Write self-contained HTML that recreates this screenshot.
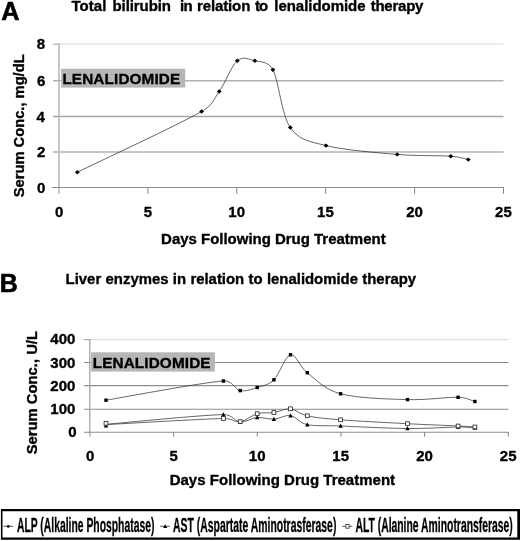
<!DOCTYPE html><html><head><meta charset="utf-8"><title>Figure</title><style>html,body{margin:0;padding:0;background:#fff}svg{display:block}text{stroke:#000;stroke-width:.35px;stroke-linejoin:round}</style></head><body><svg width="520" height="541" viewBox="0 0 520 541">
<rect width="520" height="541" fill="#fff"/>
<g font-family="Liberation Sans, Arial, sans-serif" font-weight="bold" fill="#000">
<text x="1.27" y="19.50" font-size="25.3" style="stroke-width:.6px">A</text>
<text x="-0.23" y="292.00" font-size="25.0" style="stroke-width:.6px">B</text>
<text y="10.5" font-size="15"><tspan x="71.38" style="letter-spacing:0.075px">Total </tspan><tspan x="112.53" style="letter-spacing:-0.084px">bilirubin </tspan><tspan x="180.00" style="letter-spacing:-0.775px">in </tspan><tspan x="197.02" style="letter-spacing:-0.125px">relation </tspan><tspan x="254.97" style="letter-spacing:-0.900px">to </tspan><tspan x="274.30" style="letter-spacing:-0.041px">lenalidomide </tspan><tspan x="370.68" style="letter-spacing:-0.238px">therapy</tspan></text>
<text x="65.62" y="283.90" font-size="14.9" style="word-spacing:0.217px" >Liver enzymes in relation to lenalidomide therapy</text>
<line x1="53.00" y1="152.00" x2="503.50" y2="152.00" stroke="#b2b2b2" stroke-width="1.5"/>
<line x1="53.00" y1="116.50" x2="503.50" y2="116.50" stroke="#a4a4a4" stroke-width="1.3"/>
<line x1="53.00" y1="80.70" x2="503.50" y2="80.70" stroke="#b2b2b2" stroke-width="1.5"/>
<line x1="59.00" y1="44.00" x2="503.50" y2="44.00" stroke="#ececec" stroke-width="2"/>
<line x1="53.00" y1="44.20" x2="59.00" y2="44.20" stroke="#b0b0b0" stroke-width="1.2"/>
<rect x="61.1" y="68.7" width="124.1" height="18.9" fill="#b6b6b6" stroke="none"/>
<text x="62.40" y="84.00" font-size="15.3" style="letter-spacing:0.127px" >LENALIDOMIDE</text>
<line x1="59.00" y1="43.60" x2="59.00" y2="193.80" stroke="#b4b4b4" stroke-width="1.5"/>
<line x1="52.00" y1="187.50" x2="504.00" y2="187.50" stroke="#8c8c8c" stroke-width="1"/>
<text x="37.05" y="192.80" font-size="15" >0</text>
<text x="37.05" y="157.30" font-size="15" >2</text>
<text x="36.42" y="121.80" font-size="15" >4</text>
<text x="36.92" y="86.00" font-size="15" >6</text>
<text x="36.80" y="49.30" font-size="15" >8</text>
<line x1="147.90" y1="187.00" x2="147.90" y2="193.80" stroke="#858585" stroke-width="1"/>
<line x1="236.80" y1="187.00" x2="236.80" y2="193.80" stroke="#858585" stroke-width="1"/>
<line x1="325.70" y1="187.00" x2="325.70" y2="193.80" stroke="#858585" stroke-width="1"/>
<line x1="414.60" y1="187.00" x2="414.60" y2="193.80" stroke="#858585" stroke-width="1"/>
<line x1="503.50" y1="187.00" x2="503.50" y2="193.80" stroke="#858585" stroke-width="1"/>
<text x="54.88" y="216.80" font-size="15" >0</text>
<text x="143.71" y="216.80" font-size="15" >5</text>
<text x="228.30" y="216.80" font-size="15" >10</text>
<text x="317.07" y="216.80" font-size="15" >15</text>
<text x="406.29" y="216.80" font-size="15" >20</text>
<text x="495.06" y="216.80" font-size="15" >25</text>
<g transform="translate(23.6,125.5) rotate(-90)"><text x="-71.69" y="0.00" font-size="14.7" >Serum Conc., mg/dL</text></g>
<text x="161.10" y="244.40" font-size="15" style="word-spacing:-0.158px" >Days Following Drug Treatment</text>
<path d="M77.30 172.20 C98.02 162.08 177.95 124.95 201.60 111.50 C213.18 104.91 213.25 99.95 219.20 91.50 C225.15 83.05 231.37 65.92 237.30 60.80 C243.23 55.68 248.87 59.30 254.80 60.80 C260.73 62.30 268.15 60.88 272.90 69.80 C278.82 80.92 281.45 114.87 290.30 127.50 C299.15 140.13 308.18 141.12 326.00 145.60 C343.82 150.08 376.40 152.63 397.20 154.40 C418.00 156.17 438.95 155.33 450.80 156.20 C459.69 156.85 465.38 159.03 468.30 159.60" fill="none" stroke="#333" stroke-width="0.75"/>
<path d="M77.30 170.00 l2.4 2.2 l-2.4 2.2 l-2.4 -2.2z" fill="#000"/>
<path d="M201.60 109.30 l2.4 2.2 l-2.4 2.2 l-2.4 -2.2z" fill="#000"/>
<path d="M219.20 89.30 l2.4 2.2 l-2.4 2.2 l-2.4 -2.2z" fill="#000"/>
<path d="M237.30 58.60 l2.4 2.2 l-2.4 2.2 l-2.4 -2.2z" fill="#000"/>
<path d="M254.80 58.60 l2.4 2.2 l-2.4 2.2 l-2.4 -2.2z" fill="#000"/>
<path d="M272.90 67.60 l2.4 2.2 l-2.4 2.2 l-2.4 -2.2z" fill="#000"/>
<path d="M290.30 125.30 l2.4 2.2 l-2.4 2.2 l-2.4 -2.2z" fill="#000"/>
<path d="M326.00 143.40 l2.4 2.2 l-2.4 2.2 l-2.4 -2.2z" fill="#000"/>
<path d="M397.20 152.20 l2.4 2.2 l-2.4 2.2 l-2.4 -2.2z" fill="#000"/>
<path d="M450.80 154.00 l2.4 2.2 l-2.4 2.2 l-2.4 -2.2z" fill="#000"/>
<path d="M468.30 157.40 l2.4 2.2 l-2.4 2.2 l-2.4 -2.2z" fill="#000"/>
<line x1="84.00" y1="362.50" x2="508.55" y2="362.50" stroke="#8e8e8e" stroke-width="1.1"/>
<line x1="84.00" y1="385.60" x2="508.55" y2="385.60" stroke="#8e8e8e" stroke-width="1.1"/>
<line x1="84.00" y1="409.20" x2="508.55" y2="409.20" stroke="#8e8e8e" stroke-width="1.1"/>
<line x1="90.00" y1="339.60" x2="508.55" y2="339.60" stroke="#dedede" stroke-width="1.4"/>
<line x1="84.00" y1="339.60" x2="90.00" y2="339.60" stroke="#a0a0a0" stroke-width="1.1"/>
<rect x="91.1" y="352.3" width="123.7" height="19.3" fill="#b6b6b6" stroke="none"/>
<text x="92.70" y="367.90" font-size="15.3" style="letter-spacing:0.127px" >LENALIDOMIDE</text>
<line x1="89.80" y1="339.20" x2="89.80" y2="436.60" stroke="#a4a4a4" stroke-width="1.3"/>
<line x1="84.00" y1="432.30" x2="508.75" y2="432.30" stroke="#8a8a8a" stroke-width="1.1"/>
<text x="68.25" y="437.30" font-size="15" >0</text>
<text x="50.33" y="414.05" font-size="15" >100</text>
<text x="50.33" y="390.80" font-size="15" >200</text>
<text x="50.33" y="367.55" font-size="15" >300</text>
<text x="50.33" y="344.30" font-size="15" >400</text>
<line x1="173.65" y1="432.00" x2="173.65" y2="436.70" stroke="#858585" stroke-width="1"/>
<line x1="257.30" y1="432.00" x2="257.30" y2="436.70" stroke="#858585" stroke-width="1"/>
<line x1="340.95" y1="432.00" x2="340.95" y2="436.70" stroke="#858585" stroke-width="1"/>
<line x1="424.60" y1="432.00" x2="424.60" y2="436.70" stroke="#858585" stroke-width="1"/>
<line x1="508.25" y1="432.00" x2="508.25" y2="436.70" stroke="#858585" stroke-width="1"/>
<text x="85.88" y="461.00" font-size="15" >0</text>
<text x="169.46" y="461.00" font-size="15" >5</text>
<text x="248.80" y="461.00" font-size="15" >10</text>
<text x="332.32" y="461.00" font-size="15" >15</text>
<text x="416.29" y="461.00" font-size="15" >20</text>
<text x="499.81" y="461.00" font-size="15" >25</text>
<g transform="translate(37.0,392.9) rotate(-90)"><text x="-61.44" y="0.00" font-size="14.8" >Serum Conc., U/L</text></g>
<text x="169.70" y="484.70" font-size="15" style="word-spacing:0.108px" >Days Following Drug Treatment</text>
<path d="M106.00 400.20 C125.57 397.00 201.03 382.60 223.40 381.00 C233.05 380.31 234.57 389.52 240.20 390.60 C245.83 391.68 251.58 389.30 257.20 387.50 C262.82 385.70 268.35 385.25 273.90 379.80 C279.45 374.35 284.93 355.98 290.50 354.80 C296.07 353.62 298.95 366.20 307.30 372.70 C315.65 379.20 323.90 389.32 340.60 393.80 C357.30 398.28 387.92 399.02 407.50 399.60 C427.08 400.18 446.87 396.98 458.10 397.30 C466.76 397.54 472.10 400.80 474.90 401.50" fill="none" stroke="#333" stroke-width="0.75"/>
<rect x="104.30" y="398.50" width="3.4" height="3.4" fill="#000"/>
<rect x="221.70" y="379.30" width="3.4" height="3.4" fill="#000"/>
<rect x="238.50" y="388.90" width="3.4" height="3.4" fill="#000"/>
<rect x="255.50" y="385.80" width="3.4" height="3.4" fill="#000"/>
<rect x="272.20" y="378.10" width="3.4" height="3.4" fill="#000"/>
<rect x="288.80" y="353.10" width="3.4" height="3.4" fill="#000"/>
<rect x="305.60" y="371.00" width="3.4" height="3.4" fill="#000"/>
<rect x="338.90" y="392.10" width="3.4" height="3.4" fill="#000"/>
<rect x="405.80" y="397.90" width="3.4" height="3.4" fill="#000"/>
<rect x="456.40" y="395.60" width="3.4" height="3.4" fill="#000"/>
<rect x="473.20" y="399.80" width="3.4" height="3.4" fill="#000"/>
<path d="M106.00 424.30 C125.57 422.68 201.03 414.98 223.40 414.60 C232.58 414.44 234.57 421.52 240.20 422.00 C245.83 422.48 251.58 417.97 257.20 417.50 C262.82 417.03 268.35 419.52 273.90 419.20 C279.45 418.88 284.93 414.70 290.50 415.60 C296.07 416.50 298.95 422.87 307.30 424.60 C315.65 426.33 323.95 425.35 340.60 426.00 C357.30 426.65 387.92 428.33 407.50 428.50 C427.08 428.67 446.87 427.10 458.10 427.00 C466.51 426.93 472.10 427.75 474.90 427.90" fill="none" stroke="#333" stroke-width="0.75"/>
<path d="M106.00 423.20 l2.2 4.2 h-4.4z" fill="#000"/>
<path d="M223.40 412.20 l2.2 4.2 h-4.4z" fill="#000"/>
<path d="M240.20 419.60 l2.2 4.2 h-4.4z" fill="#000"/>
<path d="M257.20 415.10 l2.2 4.2 h-4.4z" fill="#000"/>
<path d="M273.90 416.80 l2.2 4.2 h-4.4z" fill="#000"/>
<path d="M290.50 413.20 l2.2 4.2 h-4.4z" fill="#000"/>
<path d="M307.30 422.20 l2.2 4.2 h-4.4z" fill="#000"/>
<path d="M340.60 423.60 l2.2 4.2 h-4.4z" fill="#000"/>
<path d="M407.50 426.10 l2.2 4.2 h-4.4z" fill="#000"/>
<path d="M458.10 424.60 l2.2 4.2 h-4.4z" fill="#000"/>
<path d="M474.90 425.50 l2.2 4.2 h-4.4z" fill="#000"/>
<path d="M106.00 424.60 C125.57 423.58 201.03 418.98 223.40 418.50 C231.95 418.32 234.57 422.50 240.20 421.70 C245.83 420.90 251.58 415.23 257.20 413.70 C262.82 412.17 268.35 413.32 273.90 412.50 C279.45 411.68 284.93 408.25 290.50 408.80 C296.07 409.35 298.95 413.97 307.30 415.80 C315.65 417.63 323.90 418.48 340.60 419.80 C357.30 421.12 387.92 422.67 407.50 423.70 C427.08 424.73 446.87 425.45 458.10 426.00 C466.50 426.41 472.10 426.83 474.90 427.00" fill="none" stroke="#333" stroke-width="0.75"/>
<rect x="104.10" y="421.40" width="3.8" height="3.8" fill="#fff" stroke="#222" stroke-width="0.8"/>
<rect x="221.50" y="416.60" width="3.8" height="3.8" fill="#fff" stroke="#222" stroke-width="0.8"/>
<rect x="238.30" y="419.80" width="3.8" height="3.8" fill="#fff" stroke="#222" stroke-width="0.8"/>
<rect x="255.30" y="411.80" width="3.8" height="3.8" fill="#fff" stroke="#222" stroke-width="0.8"/>
<rect x="272.00" y="410.60" width="3.8" height="3.8" fill="#fff" stroke="#222" stroke-width="0.8"/>
<rect x="288.60" y="406.90" width="3.8" height="3.8" fill="#fff" stroke="#222" stroke-width="0.8"/>
<rect x="305.40" y="413.90" width="3.8" height="3.8" fill="#fff" stroke="#222" stroke-width="0.8"/>
<rect x="338.70" y="417.90" width="3.8" height="3.8" fill="#fff" stroke="#222" stroke-width="0.8"/>
<rect x="405.60" y="421.80" width="3.8" height="3.8" fill="#fff" stroke="#222" stroke-width="0.8"/>
<rect x="456.20" y="424.10" width="3.8" height="3.8" fill="#fff" stroke="#222" stroke-width="0.8"/>
<rect x="473.00" y="425.10" width="3.8" height="3.8" fill="#fff" stroke="#222" stroke-width="0.8"/>
<path d="M0.9 509 H520 V539.8 H0.9 Z M2.5 511.3 V537.5 H517.3 V511.3 Z" fill="#000" fill-rule="evenodd"/>
<text transform="translate(17.10,532.30) scale(0.5264,1)" x="-0.38" y="0" font-size="19.7" style="stroke-width:.3px">ALP (Alkaline Phosphatase)</text>
<text transform="translate(173.30,532.30) scale(0.5284,1)" x="-0.38" y="0" font-size="19.7" style="stroke-width:.3px">AST (Aspartate Aminotrasferase)</text>
<text transform="translate(355.60,532.30) scale(0.5271,1)" x="-0.38" y="0" font-size="19.7" style="stroke-width:.3px">ALT (Alanine Aminotransferase)</text>
<line x1="3.50" y1="526.30" x2="13.30" y2="526.30" stroke="#555" stroke-width="1"/>
<rect x="7.2" y="525.2" width="2.2" height="2.4" fill="#000"/>
<line x1="160.20" y1="526.30" x2="169.80" y2="526.30" stroke="#555" stroke-width="1"/>
<path d="M165.2 524.3 l2 3.6 h-4z" fill="#000"/>
<line x1="342.30" y1="526.30" x2="352.40" y2="526.30" stroke="#555" stroke-width="1"/>
<rect x="345.9" y="524.4" width="3.2" height="3.8" fill="#fff" stroke="#333" stroke-width="0.8"/>
</g></svg></body></html>
